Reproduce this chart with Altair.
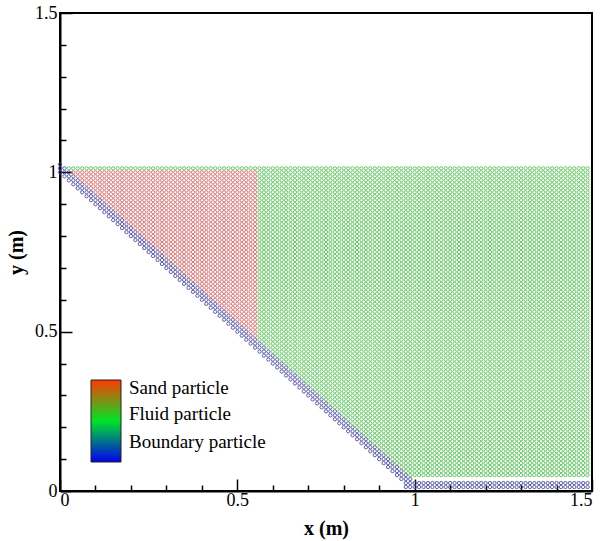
import altair as alt
import numpy as np
import pandas as pd

# ---- particle lattice parameters (metres) ----
STEP = 0.0125                      # particle spacing
X_COLUMNS = [0.0, 1.4875]          # first / last particle column
FLUID_ROWS = [0.05, 1.0125]        # lowest / highest fluid row
SAND_LIMITS = [0.55, 1.0]          # sand block: x <= 0.55, y <= 1.0
SLOPE_BAND = [1.0, 1.025]          # boundary particles: x + y in this band
FLUID_ABOVE = 1.0375               # fluid/sand particles: x + y >= this
BOTTOM_ROWS = [0.0125, 0.025]      # bottom wall rows
BOTTOM_FROM = 0.975                # bottom wall starts at this x
TOP_BOUNDARY = 1.025               # highest boundary particle

CATEGORIES = ["Sand particle", "Fluid particle", "Boundary particle"]
STROKES = ["#d85f5f", "#4cbf4c", "#4040a0"]
LEGEND_RANGE = ["#0000f0", "#00e428", "#ff3a00"]   # bottom -> top of legend bar
LEGEND_CODES = [1.8, 1.17, 0.49]

X_TICKS = [round(0.1 * k, 1) for k in range(16)]
Y_TICKS = [round(0.1 * k, 1) for k in range(16)]

# ---- build particle table from the lattice parameters ----
def idx(v):
    return int(round(v / STEP))

rows = []
i0, i1 = idx(X_COLUMNS[0]), idx(X_COLUMNS[1])
for i in range(i0, i1 + 1):
    for j in range(1, idx(TOP_BOUNDARY) + 1):
        s = i + j
        kind = None
        if idx(SLOPE_BAND[0]) <= s <= idx(SLOPE_BAND[1]):
            kind = CATEGORIES[2]
        elif j in [idx(b) for b in BOTTOM_ROWS] and i >= idx(BOTTOM_FROM):
            kind = CATEGORIES[2]
        elif s >= idx(FLUID_ABOVE) and idx(FLUID_ROWS[0]) <= j <= idx(FLUID_ROWS[1]):
            if i <= idx(SAND_LIMITS[0]) and j <= idx(SAND_LIMITS[1]):
                kind = CATEGORIES[0]
            else:
                kind = CATEGORIES[1]
        if kind is not None:
            rows.append({"x": i * STEP, "y": j * STEP, "kind": kind})
particles = pd.DataFrame(rows)

major = "abs(datum.value*2 - round(datum.value*2)) < 0.000001"
SERIF = "Liberation Serif"

x_axis = alt.Axis(
    values=X_TICKS, labelExpr=f"{major} ? format(datum.value, '~g') : ''",
    tickSize={"condition": {"test": major, "value": -12}, "value": -6},
    title="x (m)", grid=False, labelPadding=12, titlePadding=9,
    labelFont=SERIF, labelFontSize=18, labelColor="black",
    titleFont=SERIF, titleFontSize=20, titleFontWeight="bold", titleColor="black",
)
y_axis = alt.Axis(
    values=Y_TICKS, labelExpr=f"{major} ? format(datum.value, '~g') : ''",
    tickSize={"condition": {"test": major, "value": -12}, "value": -6},
    title="y (m)", grid=False, labelPadding=15, titlePadding=8,
    labelFont=SERIF, labelFontSize=18, labelColor="black",
    titleFont=SERIF, titleFontSize=20, titleFontWeight="bold", titleColor="black",
)

pts = alt.Chart(particles).mark_point(filled=False, size=11, strokeWidth=1.0, opacity=0.85).encode(
    x=alt.X("x:Q", scale=alt.Scale(domain=[0, 1.5], nice=False), axis=x_axis),
    y=alt.Y("y:Q", scale=alt.Scale(domain=[0, 1.5], nice=False), axis=y_axis),
    stroke=alt.Stroke("kind:N", scale=alt.Scale(domain=CATEGORIES, range=STROKES), legend=None),
)

legend_df = pd.DataFrame({"kind": CATEGORIES, "code": [2, 1, 0]})
leg = alt.Chart(legend_df).mark_point(opacity=0).encode(
    x=alt.value(0), y=alt.value(0),
    color=alt.Color(
        "code:Q",
        scale=alt.Scale(domain=[0, 2], range=LEGEND_RANGE, interpolate="rgb"),
        legend=alt.Legend(
            orient="none", legendX=31, legendY=367, direction="vertical",
            gradientLength=82, gradientThickness=30, title=None,
            values=LEGEND_CODES,
            labelExpr="datum.value < 0.8 ? 'Boundary particle' : datum.value < 1.5 ? 'Fluid particle' : 'Sand particle'",
            labelFont=SERIF, labelFontSize=19, labelColor="black", labelOffset=8,
            labelBaseline="middle", labelOverlap=False, labelLimit=400,
            gradientStrokeColor="#222222", gradientStrokeWidth=1,
        ),
    ),
)

chart = alt.layer(pts, leg).resolve_scale(color="independent").properties(
    width=532, height=478, background="white",
    padding={"left": 6, "top": 4, "right": 5, "bottom": 5},
).configure_axis(
    domainColor="black", domainWidth=2, tickColor="black", tickWidth=1.5,
).configure_legend(
    labelFont=SERIF, labelFontSize=19, labelColor="black",
).configure_view(stroke="black", strokeWidth=2)

chart.save("out.html", embed_options={"renderer": "svg", "actions": False})
